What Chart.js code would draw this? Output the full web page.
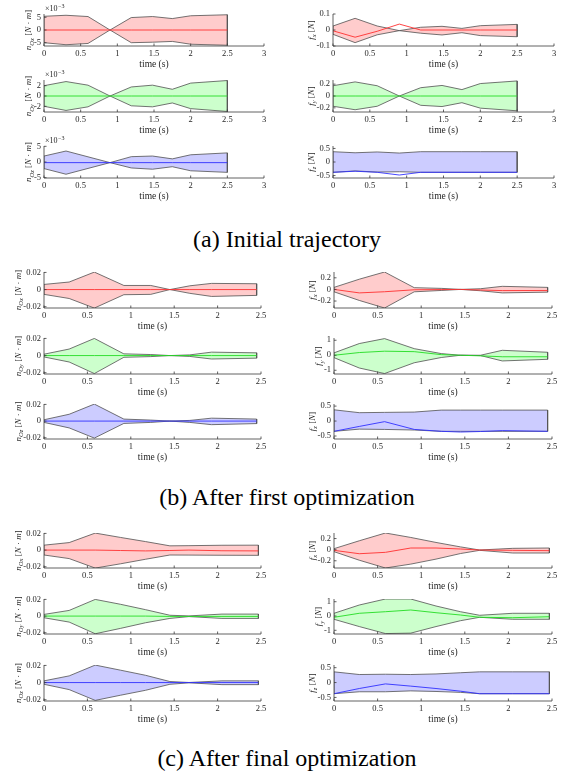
<!DOCTYPE html>
<html><head><meta charset="utf-8">
<script src="https://cdn.jsdelivr.net/npm/chart.js@4.4.1/dist/chart.umd.min.js"></script>
<style>
html,body{margin:0;padding:0;background:#fff;}
body{width:565px;height:778px;position:relative;overflow:hidden;}
.cap{position:absolute;left:0;width:574px;text-align:center;font:24px "Liberation Serif",serif;line-height:24px;color:#000;white-space:nowrap;}
canvas{position:absolute;}
</style></head><body>
<div class="cap" style="top:227px">(a) Initial trajectory</div>
<div class="cap" style="top:485px">(b) After first optimization</div>
<div class="cap" style="top:746px">(c) After final optimization</div>
<script>
// ---------- time samples ----------
const tA = [0, 0.3, 0.6, 0.9, 1.19, 1.48, 1.75, 2.0, 2.5];
const tB = [0, 0.29, 0.58, 0.92, 1.23, 1.45, 1.68, 1.93, 2.45];
const tC = [0, 0.29, 0.59, 0.88, 1.17, 1.45, 1.67, 2.05, 2.47];

// ---------- (a) Initial trajectory (n values in units of 1e-3 N·m) ----------
const aNxUp  = [5.4, 5.8, 5.3, 0, 4.9, 5.3, 4.5, 5.6, 6.0];
const aNxLo  = [-5.0, -5.8, -5.3, 0, -5.0, -4.8, -4.5, -5.6, -6.0];
const aNxMid = [0, 0, 0, 0, 0, 0, 0, 0, 0];
const aNyUp  = [2.0, 2.8, 2.1, 0, 1.75, 2.1, 1.3, 2.5, 3.0];
const aNyLo  = [-2.0, -2.8, -2.1, 0, -1.9, -2.1, -1.35, -2.45, -3.0];
const aNyMid = [0, 0, 0, 0, 0, 0, 0, 0, 0];
const aNzUp  = [1.9, 3.5, 1.65, -0.2, 1.7, 1.9, 1.0, 2.3, 2.9];
const aNzLo  = [-2.1, -3.9, -2.05, -0.2, -1.9, -2.3, -1.5, -2.8, -3.3];
const aNzMid = [-0.2, -0.2, -0.2, -0.2, -0.2, -0.2, -0.2, -0.2, -0.2];
const aFxUp  = [0.025, 0.073, 0.025, -0.004, 0.017, 0.023, 0.01, 0.027, 0.035];
const aFxLo  = [-0.027, -0.079, -0.03, -0.004, -0.02, -0.031, -0.017, -0.035, -0.042];
const aFxMid = [-0.005, -0.045, -0.008, 0.037, 0, 0, 0, 0, 0];
const aFyUp  = [0.173, 0.238, 0.173, 0, 0.14, 0.178, 0.108, 0.21, 0.254];
const aFyLo  = [-0.173, -0.232, -0.173, 0, -0.157, -0.178, -0.113, -0.205, -0.25];
const aFyMid = [0, 0, 0, 0, 0, 0, 0, 0, 0];
const aFzUp  = [0.38, 0.34, 0.37, 0.33, 0.38, 0.38, 0.38, 0.38, 0.38];
const aFzLo  = [-0.38, -0.33, -0.37, -0.36, -0.38, -0.38, -0.38, -0.38, -0.38];
const aFzMid = [-0.38, -0.34, -0.38, -0.48, -0.38, -0.38, -0.38, -0.38, -0.38];

// ---------- (b) After first optimization ----------
const bNxUp  = [0.006, 0.0088, 0.0204, 0.0048, 0.0048, 0, 0.0044, 0.0072, 0.0068];
const bNxLo  = [-0.0056, -0.0104, -0.0216, -0.006, -0.0056, 0, -0.0044, -0.008, -0.0068];
const bNxMid = [0, 0, 0, 0, 0, 0, 0, 0, 0];
const bNyUp  = [0.0016, 0.0076, 0.02, 0.002, 0.0012, 0, 0.0008, 0.004, 0.0032];
const bNyLo  = [-0.0016, -0.0075, -0.021, -0.002, -0.0012, 0, -0.001, -0.004, -0.003];
const bNyMid = [0, 0, 0, 0, 0, 0, 0, 0, 0];
const bNzUp  = [0.0016, 0.0082, 0.0204, 0.0024, 0.0012, 0, 0.0008, 0.0035, 0.0024];
const bNzLo  = [-0.0016, -0.0082, -0.0204, -0.0028, -0.0016, 0, -0.0016, -0.0043, -0.003];
const bNzMid = [0, 0, 0, 0, 0, 0, 0, 0, 0];
const bFxUp  = [0.035, 0.176, 0.30, 0.03, 0.018, 0, 0.012, 0.053, 0.035];
const bFxLo  = [-0.041, -0.19, -0.32, -0.041, -0.018, 0, -0.023, -0.06, -0.047];
const bFxMid = [0, -0.06, -0.04, -0.006, -0.003, 0, -0.01, -0.02, -0.018];
const bFyUp  = [0.16, 0.78, 1.11, 0.44, 0.11, 0, 0, 0.33, 0.2];
const bFyLo  = [-0.16, -0.85, -1.22, -0.5, -0.15, 0, -0.02, -0.38, -0.27];
const bFyMid = [0, 0.18, 0.27, 0.24, 0.04, 0, -0.04, -0.1, -0.1];
const bFzUp  = [0.376, 0.28, 0.29, 0.30, 0.366, 0.366, 0.366, 0.366, 0.366];
const bFzLo  = [-0.344, -0.27, -0.28, -0.30, -0.344, -0.344, -0.344, -0.344, -0.344];
const bFzMid = [-0.344, -0.18, -0.02, -0.28, -0.344, -0.366, -0.35, -0.32, -0.344];

// ---------- (c) After final optimization ----------
const cNxUp  = [0.0059, 0.009, 0.0204, 0.0152, 0.0102, 0.0051, 0.0053, 0.0058, 0.0059];
const cNxLo  = [-0.0059, -0.0102, -0.0216, -0.0165, -0.011, -0.0059, -0.006, -0.0062, -0.0063];
const cNxMid = [0, 0, 0, -0.0005, -0.001, -0.0005, 0, -0.0008, -0.001];
const cNyUp  = [0.002, 0.0068, 0.02, 0.0142, 0.0077, 0.001, 0.0002, 0.0024, 0.0024];
const cNyLo  = [-0.002, -0.0072, -0.0212, -0.0148, -0.008, -0.0028, -0.0006, -0.0028, -0.0028];
const cNyMid = [0, 0, 0, 0, 0, -0.0004, -0.0004, -0.0004, -0.0004];
const cNzUp  = [0.002, 0.0078, 0.0204, 0.0145, 0.0085, 0.0012, 0.0001, 0.002, 0.002];
const cNzLo  = [-0.002, -0.0082, -0.0208, -0.0148, -0.009, -0.002, -0.0003, -0.0024, -0.0024];
const cNzMid = [0, 0, 0, 0, 0, 0, 0, 0, 0];
const cFxUp  = [0.018, 0.16, 0.30, 0.22, 0.13, 0.05, -0.006, 0.024, 0.03];
const cFxLo  = [-0.036, -0.19, -0.33, -0.26, -0.17, -0.07, -0.012, -0.06, -0.06];
const cFxMid = [-0.012, -0.073, -0.048, 0.03, 0.03, 0.012, -0.006, -0.012, -0.018];
const cFyUp  = [0.19, 0.77, 1.19, 1.19, 0.7, 0.3, 0.05, 0.19, 0.19];
const cFyLo  = [-0.23, -0.74, -1.23, -1.2, -0.74, -0.33, -0.09, -0.23, -0.23];
const cFyMid = [-0.09, 0.19, 0.3, 0.42, 0.23, 0.07, -0.09, -0.12, -0.05];
const cFzUp  = [0.36, 0.27, 0.28, 0.27, 0.29, 0.33, 0.36, 0.36, 0.36];
const cFzLo  = [-0.375, -0.31, -0.31, -0.28, -0.30, -0.33, -0.375, -0.375, -0.375];
const cFzMid = [-0.375, -0.2, -0.045, -0.12, -0.2, -0.29, -0.375, -0.375, -0.375];

// ---------- tick labels ----------
const xTicksA  = [0, 0.5, 1, 1.5, 2, 2.5, 3];
const xTicksBC = [0, 0.5, 1, 1.5, 2, 2.5];
const yTicksN3a = [-5, 0, 5];
const yTicksN2a = [-2, 0, 2];
const yTicksFxA = [-0.1, 0, 0.1];
const yTicksF02 = [-0.2, 0, 0.2];
const yTicksF05 = [-0.5, 0, 0.5];
const yTicksN   = [-0.02, 0, 0.02];
const yTicksF1  = [-1, 0, 1];

// ---------- styling ----------
const FILL = {r: '#ffcccc', g: '#ccffcc', b: '#ccccff'};
const LINE = {r: '#ff3030', g: '#22dd22', b: '#3030ff'};
const EDGE = '#505050';
const AXC = '#3a3a3a';
const TXC = '#262626';
const SERIF = '"Liberation Serif", "DejaVu Serif", serif';
const TICKPX = 8.5;

const I = 'italic 9px ' + SERIF, S = 'italic 6.5px ' + SERIF, R = '9px ' + SERIF;
const LABELS = {
  nOx: [['n', I], ['Ox', S, 1], [' [', R], ['N', I], [' · ', R], ['m', I], [']', R]],
  nOy: [['n', I], ['Oy', S, 1], [' [', R], ['N', I], [' · ', R], ['m', I], [']', R]],
  nOz: [['n', I], ['Oz', S, 1], [' [', R], ['N', I], [' · ', R], ['m', I], [']', R]],
  fx:  [['f', I], ['x', S, 1], [' [', R], ['N', I], [']', R]],
  fy:  [['f', I], ['y', S, 1], [' [', R], ['N', I], [']', R]],
  fz:  [['f', I], ['z', S, 1], [' [', R], ['N', I], [']', R]]
};

const panels = [
  // (a)
  {L:44, R:264, T:14, B:46, xmax:3, xt:xTicksA, ymin:-6.3, ymax:6.3, yt:yTicksN3a, t:tA, up:aNxUp, lo:aNxLo, mid:aNxMid, c:'r', lab:'nOx', exp:true},
  {L:44, R:264, T:80, B:112, xmax:3, xt:xTicksA, ymin:-3.1, ymax:3.1, yt:yTicksN2a, t:tA, up:aNyUp, lo:aNyLo, mid:aNyMid, c:'g', lab:'nOy', exp:true},
  {L:44, R:264, T:146, B:178, xmax:3, xt:xTicksA, ymin:-5.1, ymax:5.1, yt:yTicksN3a, t:tA, up:aNzUp, lo:aNzLo, mid:aNzMid, c:'b', lab:'nOz', exp:true},
  {L:333, R:554, T:14, B:46, xmax:3, xt:xTicksA, ymin:-0.1, ymax:0.1, yt:yTicksFxA, t:tA, up:aFxUp, lo:aFxLo, mid:aFxMid, c:'r', lab:'fx'},
  {L:333, R:554, T:80, B:112, xmax:3, xt:xTicksA, ymin:-0.27, ymax:0.27, yt:yTicksF02, t:tA, up:aFyUp, lo:aFyLo, mid:aFyMid, c:'g', lab:'fy'},
  {L:333, R:554, T:146, B:178, xmax:3, xt:xTicksA, ymin:-0.59, ymax:0.59, yt:yTicksF05, t:tA, up:aFzUp, lo:aFzLo, mid:aFzMid, c:'b', lab:'fz'},
  // (b)
  {L:44, R:261, T:272, B:308, xmax:2.5, xt:xTicksBC, ymin:-0.0215, ymax:0.0205, yt:yTicksN, t:tB, up:bNxUp, lo:bNxLo, mid:bNxMid, c:'r', lab:'nOx'},
  {L:44, R:261, T:338, B:374, xmax:2.5, xt:xTicksBC, ymin:-0.0215, ymax:0.0205, yt:yTicksN, t:tB, up:bNyUp, lo:bNyLo, mid:bNyMid, c:'g', lab:'nOy'},
  {L:44, R:261, T:404, B:439, xmax:2.5, xt:xTicksBC, ymin:-0.0215, ymax:0.0205, yt:yTicksN, t:tB, up:bNzUp, lo:bNzLo, mid:bNzMid, c:'b', lab:'nOz'},
  {L:334, R:552, T:272, B:308, xmax:2.5, xt:xTicksBC, ymin:-0.32, ymax:0.30, yt:yTicksF02, t:tB, up:bFxUp, lo:bFxLo, mid:bFxMid, c:'r', lab:'fx'},
  {L:334, R:552, T:338, B:374, xmax:2.5, xt:xTicksBC, ymin:-1.25, ymax:1.15, yt:yTicksF1, t:tB, up:bFyUp, lo:bFyLo, mid:bFyMid, c:'g', lab:'fy'},
  {L:334, R:552, T:404, B:439, xmax:2.5, xt:xTicksBC, ymin:-0.6, ymax:0.57, yt:yTicksF05, t:tB, up:bFzUp, lo:bFzLo, mid:bFzMid, c:'b', lab:'fz'},
  // (c)
  {L:44, R:261, T:533, B:568, xmax:2.5, xt:xTicksBC, ymin:-0.0215, ymax:0.0205, yt:yTicksN, t:tC, up:cNxUp, lo:cNxLo, mid:cNxMid, c:'r', lab:'nOx'},
  {L:44, R:261, T:599, B:634, xmax:2.5, xt:xTicksBC, ymin:-0.0215, ymax:0.0205, yt:yTicksN, t:tC, up:cNyUp, lo:cNyLo, mid:cNyMid, c:'g', lab:'nOy'},
  {L:44, R:261, T:665, B:701, xmax:2.5, xt:xTicksBC, ymin:-0.0215, ymax:0.0205, yt:yTicksN, t:tC, up:cNzUp, lo:cNzLo, mid:cNzMid, c:'b', lab:'nOz'},
  {L:334, R:552, T:533, B:568, xmax:2.5, xt:xTicksBC, ymin:-0.33, ymax:0.30, yt:yTicksF02, t:tC, up:cFxUp, lo:cFxLo, mid:cFxMid, c:'r', lab:'fx'},
  {L:334, R:552, T:599, B:634, xmax:2.5, xt:xTicksBC, ymin:-1.26, ymax:1.19, yt:yTicksF1, t:tC, up:cFyUp, lo:cFyLo, mid:cFyMid, c:'g', lab:'fy'},
  {L:334, R:552, T:665, B:701, xmax:2.5, xt:xTicksBC, ymin:-0.62, ymax:0.59, yt:yTicksF05, t:tC, up:cFzUp, lo:cFzLo, mid:cFzMid, c:'b', lab:'fz'}
];

function fmt(v) { return String(+v.toFixed(4)); }

function drawRich(ctx, segs, bx, cy) {
  ctx.save();
  ctx.translate(bx, cy);
  ctx.rotate(-Math.PI / 2);
  ctx.textAlign = 'left';
  ctx.textBaseline = 'alphabetic';
  ctx.fillStyle = TXC;
  let tot = 0;
  for (const s of segs) { ctx.font = s[1]; tot += ctx.measureText(s[0]).width; }
  let x = -tot / 2;
  for (const s of segs) {
    ctx.font = s[1];
    ctx.fillText(s[0], x, s[2] ? 2.2 : 0);
    x += ctx.measureText(s[0]).width;
  }
  ctx.restore();
}

function axesPlugin(p) {
  return {
    id: 'mlaxes',
    afterDraw(chart) {
      const ctx = chart.ctx, a = chart.chartArea, xs = chart.scales.x, ys = chart.scales.y;
      ctx.save();
      ctx.strokeStyle = AXC;
      ctx.lineWidth = 0.8;
      ctx.beginPath();
      ctx.moveTo(a.left, a.top);
      ctx.lineTo(a.left, a.bottom);
      ctx.lineTo(a.right, a.bottom);
      for (const v of p.xt) {
        const x = xs.getPixelForValue(v);
        ctx.moveTo(x, a.bottom); ctx.lineTo(x, a.bottom - 2.5);
      }
      for (const v of p.yt) {
        const y = ys.getPixelForValue(v);
        ctx.moveTo(a.left, y); ctx.lineTo(a.left + 2.5, y);
      }
      ctx.stroke();
      ctx.fillStyle = TXC;
      ctx.font = '9.5px ' + SERIF;
      ctx.textAlign = 'center';
      ctx.textBaseline = 'middle';
      ctx.fillText('time (s)', (a.left + a.right) / 2, a.bottom + 18.5);
      ctx.font = TICKPX + 'px ' + SERIF;
      let maxW = 0;
      for (const v of p.yt) maxW = Math.max(maxW, ctx.measureText(fmt(v)).width);
      drawRich(ctx, LABELS[p.lab], a.left - 3 - maxW - 2.5, (a.top + a.bottom) / 2);
      if (p.exp) {
        ctx.textAlign = 'left';
        ctx.textBaseline = 'alphabetic';
        ctx.font = '8px ' + SERIF;
        const bx = a.left + 1, by = a.top - 3;
        ctx.fillText('\u00d710', bx, by);
        const w = ctx.measureText('\u00d710').width;
        ctx.font = '6px ' + SERIF;
        ctx.fillText('\u22123', bx + w + 0.5, by - 3.5);
      }
      ctx.restore();
    }
  };
}

const PADL = 50, PADR = 12, PADT = 14, PADB = 30;
for (const p of panels) {
  const cv = document.createElement('canvas');
  const w = p.R - p.L + PADL + PADR, h = p.B - p.T + PADT + PADB;
  cv.width = w; cv.height = h;
  cv.style.left = (p.L - PADL) + 'px';
  cv.style.top = (p.T - PADT) + 'px';
  cv.style.width = w + 'px'; cv.style.height = h + 'px';
  document.body.appendChild(cv);
  const poly = p.t.map((t, i) => ({x: t, y: p.up[i]}))
    .concat(p.t.map((t, i) => ({x: t, y: p.lo[i]})).reverse());
  poly.push({x: p.t[0], y: p.up[0]});
  const mid = p.t.map((t, i) => ({x: t, y: p.mid[i]}));
  new Chart(cv, {
    type: 'line',
    data: {
      datasets: [
        {data: mid, borderColor: LINE[p.c], borderWidth: 0.9, pointRadius: 0, fill: false, tension: 0},
        {data: poly, borderColor: EDGE, borderWidth: 0.8, backgroundColor: FILL[p.c], pointRadius: 0, fill: 'shape', tension: 0}
      ]
    },
    options: {
      responsive: false, animation: false, devicePixelRatio: 1,
      layout: {padding: {left: 0, top: PADT, right: PADR, bottom: 0}},
      plugins: {legend: {display: false}, tooltip: {enabled: false}},
      scales: {
        x: {
          type: 'linear', min: 0, max: p.xmax,
          grid: {display: false, drawTicks: false}, border: {display: false},
          afterBuildTicks: s => { s.ticks = p.xt.map(v => ({value: v})); },
          afterFit: s => { s.height = PADB; s.paddingLeft = 0; s.paddingRight = 0; },
          ticks: {autoSkip: false, maxRotation: 0, minRotation: 0, padding: 3, color: TXC,
                  font: {family: SERIF, size: TICKPX}, callback: v => fmt(v)}
        },
        y: {
          type: 'linear', min: p.ymin, max: p.ymax,
          grid: {display: false, drawTicks: false}, border: {display: false},
          afterBuildTicks: s => { s.ticks = p.yt.map(v => ({value: v})); },
          afterFit: s => { s.width = PADL; s.paddingTop = 0; s.paddingBottom = 0; },
          ticks: {autoSkip: false, padding: 3, color: TXC,
                  font: {family: SERIF, size: TICKPX}, callback: v => fmt(v)}
        }
      }
    },
    plugins: [axesPlugin(p)]
  });
}
</script>
</body></html>
